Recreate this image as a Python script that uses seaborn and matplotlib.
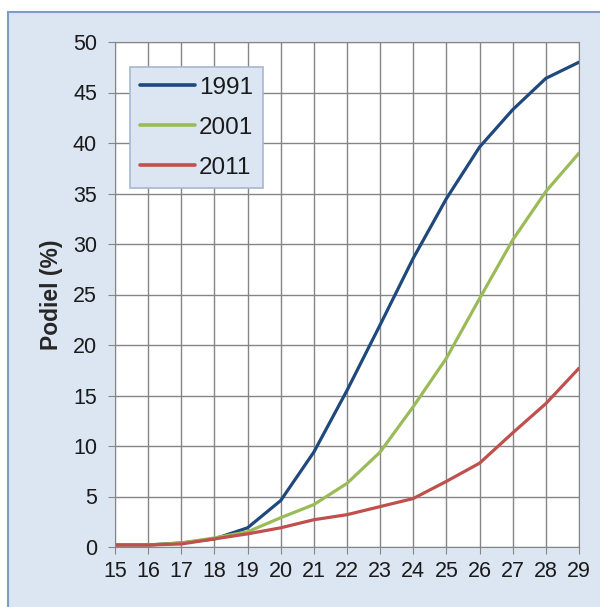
import pandas as pd
import seaborn as sns
import matplotlib.pyplot as plt
from matplotlib.patches import Rectangle

# data
vek = list(range(15, 30))
p1991 = [0.2, 0.2, 0.4, 0.8, 1.9, 4.6, 9.4, 15.5, 22.0, 28.6, 34.5, 39.6, 43.3, 46.4, 48.0]
p2001 = [0.2, 0.2, 0.4, 0.9, 1.5, 2.9, 4.2, 6.3, 9.4, 13.9, 18.7, 24.6, 30.4, 35.2, 39.0]
p2011 = [0.2, 0.2, 0.3, 0.8, 1.3, 1.9, 2.7, 3.2, 4.0, 4.8, 6.5, 8.3, 11.3, 14.2, 17.7]
roky = ['1991', '2001', '2011']
farby = ['#1f497d', '#9bbb59', '#c0504d']

df = pd.concat([
    pd.DataFrame({'vek': vek, 'podiel': p, 'rok': r})
    for p, r in zip([p1991, p2001, p2011], roky)
])

sns.set_style('white')
plt.rcParams['font.family'] = ['Liberation Sans', 'DejaVu Sans']

fig = plt.figure(figsize=(6, 6.07), dpi=100)
fig.patch.set_facecolor('white')

# light blue chart frame
fig.patches.append(Rectangle((8 / 600, -0.01), 1.0, 1 - 12 / 607 + 0.01,
                             transform=fig.transFigure, facecolor='#dce6f2',
                             edgecolor='#7f9cc4', linewidth=1.5, zorder=-10))

ax = fig.add_axes([115 / 600, 60 / 607, 464 / 600, 505 / 607])
ax.set_zorder(1)
ax.set_facecolor('white')

sns.lineplot(data=df, x='vek', y='podiel', hue='rok', palette=dict(zip(roky, farby)),
             linewidth=2.3, ax=ax, legend=False)

ax.set_xlim(15, 29)
ax.set_ylim(0, 50)
ax.set_xticks(vek)
ax.set_yticks(range(0, 51, 5))
ax.grid(True, color='#858585', linewidth=1)
ax.set_axisbelow(True)
for s in ax.spines.values():
    s.set_color('#858585')
ax.tick_params(axis='both', labelsize=15.5, colors='#858585', labelcolor='#1a1a1a',
               length=5, direction='out', left=True, bottom=True)
ax.tick_params(axis='y', pad=8)
ax.tick_params(axis='x', pad=5)
ax.set_xlabel('')
ax.set_ylabel('Podiel (%)', fontsize=16.5, fontweight='bold', labelpad=7)

handles = [plt.Line2D([], [], color=c, linewidth=2.6) for c in farby]
leg = ax.legend(handles, roky, loc='upper left', bbox_to_anchor=(0.032, 0.95),
                borderaxespad=0, fontsize=17.5, frameon=True, fancybox=False,
                handlelength=2.3, handletextpad=0.15, labelspacing=0.73,
                borderpad=0.4)
leg.get_frame().set_facecolor('#dce6f2')
leg.get_frame().set_edgecolor('#a6b8d0')
leg.get_frame().set_alpha(1)
leg.get_frame().set_linewidth(1.2)
for t in leg.get_texts():
    t.set_color('#1a1a1a')

fig.savefig('out.png', dpi=100)
